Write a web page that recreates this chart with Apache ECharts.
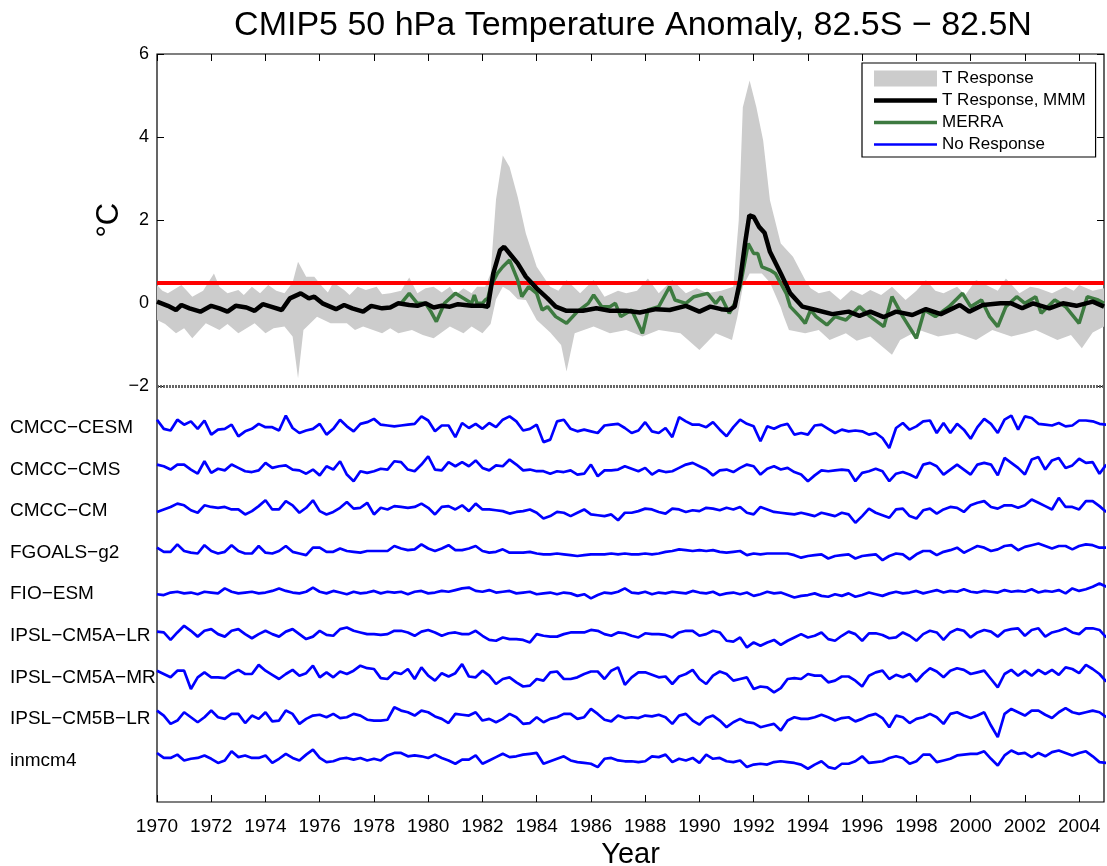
<!DOCTYPE html>
<html><head><meta charset="utf-8">
<script src="https://cdn.jsdelivr.net/npm/echarts@6/dist/echarts.min.js"></script>
<style>html,body{margin:0;padding:0;background:#fff}#c{width:1107px;height:866px}</style>
</head><body><div id="c"></div>
<script>
const FONT = '"Liberation Sans", Arial, Helvetica, sans-serif';
const titleText = 'CMIP5 50 hPa Temperature Anomaly, 82.5S \u2212 82.5N';
const xTicks = [1970,1972,1974,1976,1978,1980,1982,1984,1986,1988,1990,1992,1994,1996,1998,2000,2002,2004];
const yTicks = [-2,0,2,4,6];
const refLevels = [0.5, -2];

// Multi-model mean "T Response" (year, °C)
const mmm = [[1970.0,0.04],[1970.4,-0.06],[1970.7,-0.16],[1970.9,-0.04],[1971.2,-0.12],[1971.6,-0.2],[1972.0,-0.06],[1972.3,-0.12],[1972.6,-0.2],[1972.9,-0.06],[1973.3,-0.1],[1973.6,-0.18],[1973.9,-0.02],[1974.2,-0.08],[1974.6,-0.16],[1974.9,0.12],[1975.3,0.24],[1975.6,0.12],[1975.8,0.16],[1976.1,0.0],[1976.6,-0.14],[1976.9,-0.04],[1977.2,-0.12],[1977.6,-0.2],[1977.9,-0.06],[1978.3,-0.12],[1978.6,-0.1],[1978.9,0.0],[1979.3,-0.04],[1979.6,-0.06],[1979.9,0.0],[1980.2,-0.1],[1980.5,-0.06],[1980.8,-0.08],[1981.1,-0.02],[1981.6,-0.06],[1982.0,-0.06],[1982.2,-0.08],[1982.4,0.72],[1982.65,1.28],[1982.8,1.36],[1983.0,1.2],[1983.3,0.96],[1983.6,0.64],[1984.0,0.36],[1984.4,0.12],[1984.7,-0.08],[1985.1,-0.18],[1985.7,-0.18],[1986.2,-0.12],[1986.7,-0.18],[1987.3,-0.18],[1987.8,-0.22],[1988.4,-0.14],[1988.9,-0.16],[1989.5,-0.06],[1990.0,-0.2],[1990.4,-0.08],[1990.8,-0.14],[1991.1,-0.16],[1991.3,-0.08],[1991.5,0.56],[1991.7,1.52],[1991.84,2.12],[1992.0,2.08],[1992.2,1.84],[1992.4,1.7],[1992.6,1.24],[1993.0,0.72],[1993.35,0.24],[1993.8,-0.08],[1994.3,-0.16],[1994.9,-0.26],[1995.5,-0.2],[1995.9,-0.3],[1996.3,-0.2],[1996.8,-0.33],[1997.25,-0.2],[1997.85,-0.28],[1998.35,-0.14],[1998.9,-0.26],[1999.6,-0.04],[1999.95,-0.2],[2000.45,-0.04],[2001.1,0.0],[2001.5,0.0],[2001.9,-0.12],[2002.3,0.0],[2002.9,-0.12],[2003.4,0.0],[2003.9,-0.06],[2004.5,0.04],[2004.92,-0.08]];

// Model spread "T Response" envelope (year, °C)
const bandUpper = [[1970.0,0.44],[1970.2,0.3],[1970.4,0.24],[1970.9,0.44],[1971.1,0.3],[1971.3,0.16],[1971.7,0.3],[1972.1,0.72],[1972.3,0.4],[1972.6,0.24],[1973.0,0.32],[1973.2,0.2],[1973.5,0.4],[1973.8,0.24],[1974.1,0.44],[1974.4,0.3],[1974.7,0.24],[1975.0,0.5],[1975.2,1.0],[1975.5,0.64],[1975.8,0.64],[1976.1,0.4],[1976.3,0.26],[1976.5,0.5],[1976.9,0.32],[1977.1,0.2],[1977.4,0.4],[1977.7,0.32],[1978.1,0.4],[1978.3,0.22],[1978.6,0.24],[1979.0,0.3],[1979.3,0.62],[1979.6,0.24],[1979.9,0.36],[1980.2,0.4],[1980.5,0.26],[1980.8,0.4],[1981.0,0.2],[1981.3,0.36],[1981.6,0.24],[1981.8,0.4],[1982.1,0.4],[1982.3,0.72],[1982.5,2.5],[1982.75,3.56],[1983.0,3.28],[1983.3,2.56],[1983.6,1.68],[1984.0,0.88],[1984.5,0.4],[1984.8,0.3],[1985.1,0.56],[1985.6,0.24],[1986.1,0.56],[1986.5,0.16],[1987.0,0.3],[1987.3,0.24],[1987.7,0.3],[1988.1,0.6],[1988.5,0.24],[1989.0,0.56],[1989.5,0.24],[1989.9,0.36],[1990.3,0.24],[1990.8,0.3],[1991.25,0.4],[1991.45,2.0],[1991.6,4.72],[1991.85,5.36],[1992.1,4.72],[1992.35,3.92],[1992.6,2.48],[1993.0,1.44],[1993.45,1.12],[1993.9,0.56],[1994.1,0.36],[1994.4,0.24],[1994.8,0.3],[1995.2,0.08],[1995.6,0.32],[1996.0,0.2],[1996.3,0.32],[1996.7,0.2],[1997.1,0.4],[1997.6,0.08],[1998.0,0.3],[1998.35,0.56],[1998.7,0.3],[1999.0,0.24],[1999.5,0.4],[1999.8,0.2],[2000.2,0.56],[2000.7,0.4],[2001.0,0.3],[2001.3,0.6],[2001.8,0.24],[2002.2,0.4],[2002.5,0.36],[2003.0,0.24],[2003.5,0.4],[2003.8,0.3],[2004.0,0.44],[2004.5,0.3],[2004.92,0.36]];
const bandLower = [[1970.0,-0.4],[1970.3,-0.5],[1970.7,-0.72],[1971.0,-0.6],[1971.3,-0.84],[1971.8,-0.48],[1972.3,-0.64],[1972.6,-0.5],[1973.0,-0.72],[1973.6,-0.48],[1974.0,-0.72],[1974.3,-0.6],[1974.7,-0.56],[1975.0,-0.8],[1975.2,-1.8],[1975.4,-0.64],[1975.9,-0.32],[1976.4,-0.48],[1977.0,-0.48],[1977.3,-0.64],[1977.6,-0.56],[1978.3,-0.72],[1978.6,-0.6],[1978.9,-0.72],[1979.4,-0.64],[1979.8,-0.76],[1980.2,-0.84],[1980.8,-0.56],[1981.3,-0.72],[1981.6,-0.56],[1982.0,-0.72],[1982.3,-0.5],[1982.5,0.1],[1982.75,0.4],[1983.0,0.3],[1983.3,0.1],[1983.6,0.08],[1984.0,-0.4],[1984.5,-0.7],[1984.9,-1.0],[1985.1,-1.64],[1985.4,-0.72],[1986.1,-0.56],[1986.7,-0.72],[1987.3,-0.64],[1987.9,-0.8],[1988.5,-0.64],[1989.3,-0.72],[1990.0,-1.12],[1990.6,-0.72],[1991.2,-0.88],[1991.4,-0.32],[1991.6,0.4],[1991.85,0.72],[1992.3,0.72],[1992.6,0.5],[1993.0,-0.1],[1993.1,-0.3],[1993.3,-0.64],[1993.9,-0.72],[1994.4,-0.64],[1994.8,-0.88],[1995.4,-0.72],[1995.8,-0.9],[1996.3,-0.8],[1997.1,-1.24],[1997.4,-0.88],[1998.1,-0.64],[1998.8,-0.8],[1999.5,-0.72],[2000.2,-0.88],[2000.8,-0.64],[2001.5,-0.8],[2002.0,-0.72],[2002.4,-0.64],[2003.2,-0.88],[2003.7,-0.76],[2004.1,-1.08],[2004.5,-0.7],[2004.92,-0.56]];

// MERRA reanalysis (year, °C)
const merra = [[1979.0,0.0],[1979.3,0.24],[1979.6,0.0],[1979.9,0.0],[1980.1,-0.2],[1980.3,-0.44],[1980.6,0.0],[1981.0,0.24],[1981.3,0.12],[1981.6,0.0],[1981.7,0.2],[1981.8,0.0],[1982.0,0.0],[1982.1,0.08],[1982.2,0.12],[1982.3,0.4],[1982.55,0.72],[1982.75,0.88],[1983.0,1.04],[1983.3,0.56],[1983.45,0.16],[1983.7,0.4],[1984.0,0.24],[1984.2,-0.16],[1984.4,-0.08],[1984.7,-0.32],[1985.1,-0.48],[1985.5,-0.2],[1985.9,0.0],[1986.1,0.2],[1986.4,-0.08],[1986.7,-0.08],[1986.9,0.0],[1987.1,-0.32],[1987.5,-0.16],[1987.9,-0.72],[1988.1,-0.16],[1988.5,-0.08],[1988.9,0.4],[1989.1,0.08],[1989.5,0.0],[1989.8,0.16],[1990.3,0.24],[1990.6,0.0],[1990.8,0.16],[1991.1,-0.24],[1991.3,0.0],[1991.5,0.4],[1991.8,1.44],[1992.0,1.2],[1992.15,1.2],[1992.3,0.88],[1992.6,0.8],[1992.8,0.72],[1993.2,0.24],[1993.35,-0.08],[1993.7,-0.32],[1993.9,-0.48],[1994.1,-0.16],[1994.3,-0.32],[1994.7,-0.52],[1995.0,-0.32],[1995.4,-0.4],[1995.9,-0.08],[1996.3,-0.32],[1996.8,-0.56],[1997.1,0.16],[1997.5,-0.32],[1998.0,-0.84],[1998.3,-0.16],[1998.7,-0.32],[1999.2,-0.08],[1999.7,0.24],[2000.0,-0.08],[2000.4,0.08],[2000.7,-0.32],[2001.0,-0.56],[2001.3,-0.08],[2001.7,0.16],[2002.0,0.0],[2002.4,0.16],[2002.6,-0.24],[2003.1,0.08],[2003.5,-0.08],[2004.0,-0.48],[2004.3,0.16],[2004.7,0.08],[2004.92,0.0]];

// "No Response" models: quarterly anomalies from 1970.0 (°C), drawn at fixed offsets
const modelNames = ['CMCC\u2212CESM','CMCC\u2212CMS','CMCC\u2212CM','FGOALS\u2212g2','FIO\u2212ESM','IPSL\u2212CM5A\u2212LR','IPSL\u2212CM5A\u2212MR','IPSL\u2212CM5B\u2212LR','inmcm4'];
const modelOffsets = [-3,-4,-5,-6,-7,-8,-9,-10,-11];
const modelStart = 1970, modelStep = 0.25;

const cmccCesm = [0.2,-0.02,-0.06,0.2, 0.08,0.16,-0.02,0.18, -0.16,-0.04,-0.02,0.08, -0.2,-0.08,-0.02,0.1, 0.02,0.02,-0.06,0.3, 0,-0.12,-0.06,-0.02, 0.1,-0.16,-0.02,0.2, 0.04,-0.08,0.1,0.14, 0.22,0.08,0.06,0.04, 0.06,0.08,0.1,0.28, 0.18,-0.08,0.06,0.06, -0.22,0.12,0,0.1, -0.02,0.12,0.02,0.2, 0.28,0.16,-0.06,-0.02, 0.08,-0.34,-0.28,0.16, 0.2,-0.02,-0.08,-0.04, -0.08,-0.12,0.06,0.08, 0.1,0,-0.12,-0.06, 0.14,-0.08,-0.12,0, -0.22,0.26,0.16,0.08, 0.08,0.02,0.14,-0.04, -0.2,0.02,0.2,0.1, 0.04,-0.32,0.04,-0.02, 0.06,0.1,-0.16,-0.12, -0.16,0.06,0.08,-0.02, -0.12,-0.04,-0.08,-0.06, -0.08,-0.16,-0.12,-0.24, -0.48,0,0.12,-0.04, 0.04,0.16,0.18,-0.12, 0.12,-0.12,0.1,-0.04, -0.26,0.02,0.22,0.1, -0.12,0.2,0.3,-0.04, 0.28,0.24,0.1,0.08, 0.06,0.12,0.04,0.06, 0.18,0.18,0.16,0.1, 0.08];
const cmccCms = [0.12,0.08,0,0.12, 0.12,0,-0.1,0.2, -0.08,0.02,-0.02,0.12, 0.04,-0.04,-0.06,-0.02, 0.16,0.04,0.08,0.1, 0,-0.02,-0.1,0, -0.14,0.08,0,0.2, -0.12,-0.28,-0.04,-0.08, -0.04,0.02,0,0.2, 0.18,0,-0.04,0.12, 0.32,0,-0.02,0.18, 0.08,0.18,0.08,0.22, 0.04,-0.02,0.1,0.08, 0.24,0.12,-0.02,0, -0.04,-0.04,-0.1,-0.04, -0.06,-0.02,-0.12,-0.1, 0.12,-0.16,-0.02,-0.02, 0,0.08,0.02,-0.04, 0.04,-0.12,-0.02,-0.06, -0.04,0.04,0.12,0.16, 0.08,0,-0.14,-0.02, 0,-0.06,0.04,0.12, 0.08,-0.12,0.02,0.08, 0,0.04,-0.06,-0.12, -0.28,-0.14,-0.02,-0.04, -0.02,0,-0.02,-0.28, -0.08,-0.04,0.02,-0.04, -0.28,-0.1,-0.06,-0.12, -0.2,0.12,0.16,0.08, -0.12,0,0.12,0, -0.12,0.12,0.16,0.12, -0.14,0.28,0.16,0.04, -0.12,0.24,0.3,0, 0.22,0.28,0.04,0.1, 0.26,0.16,0.18,-0.1, 0.12];
const cmccCm = [-0.02,0.04,0.1,0.18, 0.14,0.02,-0.04,0.14, 0.1,0.08,0.1,0.04, 0.04,-0.08,0,0.12, 0.26,0.04,0.04,0.24, 0.14,-0.04,0.08,0.26, 0,-0.08,-0.02,0.08, 0.22,0.06,0.08,0.2, -0.08,0.08,0.04,0.12, 0.1,0.08,0.1,0.18, 0.08,-0.08,0.1,0.12, 0.04,0.14,0,0.18, 0.04,0.04,0.02,0, -0.06,-0.02,0,0.04, -0.04,-0.18,-0.12,-0.02, -0.04,-0.12,-0.04,0.04, -0.08,-0.1,-0.12,-0.08, -0.22,-0.04,-0.04,0, 0.06,0.04,-0.02,-0.06, 0.06,0.04,-0.02,0.02, 0,0.08,0.06,0.02, 0.08,0.04,0.1,-0.04, -0.08,0.1,0.04,-0.02, -0.04,-0.06,-0.08,-0.04, -0.08,-0.12,-0.04,-0.08, -0.12,-0.04,-0.08,-0.28, -0.12,0.06,-0.04,-0.1, -0.16,0.04,0.06,-0.12, -0.18,0.02,0.06,-0.06, 0.04,0.1,0.08,-0.02, 0.14,0.2,0.24,0.1, 0.06,0.14,0.14,0.08, 0.14,0.28,0.2,0.12, 0.04,0.32,0.1,0.1, 0.04,0.24,0.24,0.12, -0.02];
const fgoals = [0.12,0.02,0.02,0.2, 0.04,0,-0.02,0.18, 0.04,-0.02,0.02,0.18, 0.04,-0.02,-0.02,0.16, 0,-0.02,0.04,0.16, 0.02,-0.02,-0.06,0.12, 0.12,0.02,0.02,0.1, 0.04,0.02,0,0.04, 0.04,0.04,0.04,0.16, 0.1,0.06,0.08,0.2, 0.1,0.04,0.1,0.18, 0.06,0.06,0.1,0.16, 0.04,0,0.02,0.08, 0,0,0,0.02, -0.02,-0.04,-0.04,-0.02, -0.04,-0.06,-0.08,-0.06, -0.04,-0.04,-0.04,-0.02, -0.04,-0.02,-0.04,-0.04, -0.02,-0.04,-0.02,0.02, 0.04,0.08,0.06,0.04, 0.06,0.04,0.06,0.02, 0,0.02,0.04,-0.06, -0.02,-0.04,-0.02,-0.02, -0.02,-0.02,-0.06,-0.12, -0.08,-0.06,-0.04,-0.14, -0.08,-0.06,-0.04,-0.14, -0.08,-0.06,-0.04,-0.18, -0.08,-0.02,-0.04,-0.16, -0.04,0.04,0.04,-0.06, 0.02,0.06,0.12,0, 0.08,0.16,0.12,0.04, 0.08,0.16,0.18,0.06, 0.14,0.18,0.22,0.16, 0.1,0.16,0.16,0.08, 0.16,0.2,0.18,0.12, 0.12];
const fioEsm = [0,-0.02,0.04,0.06, 0.02,0.04,0,0.06, 0.04,0.02,0.14,0.06, 0.02,0.04,0.06,0.02, 0.04,0.08,0.14,0.08, 0.04,0.02,0.06,0.16, 0.06,0.02,0.08,0.04, 0,0.06,0.02,0.04, 0.08,0.02,0.06,0.04, 0.06,0,0.06,0.08, 0.02,0.04,0.08,0.06, 0.1,0.14,0.16,0.08, 0.06,0.1,0.04,0.06, 0.08,0.02,0.04,0.06, 0,0.02,0.04,0, 0.04,0.02,-0.04,0, -0.1,-0.02,0.04,0.02, 0.06,0.14,0.04,0.02, 0.06,0,0.04,0.02, 0.06,0.04,0.02,0.08, 0.04,0.02,0.06,-0.02, 0.02,0.04,0,0.04, -0.04,0,0.06,0.02, 0.04,-0.02,-0.08,-0.04, -0.02,0.02,-0.04,-0.06, 0,-0.04,0.02,-0.06, -0.02,0.04,0,-0.04, 0.02,0.06,0.02,0.04, 0.08,0.02,0.06,0.1, 0.04,0.08,0.06,0.12, 0.06,0.04,0.08,0.06, 0.04,0.1,0.06,0.08, 0.06,0.12,0.04,0.08, 0.06,0.1,0.02,0.14, 0.08,0.12,0.18,0.26, 0.18];
const ipslALr = [0.1,0.08,-0.1,0.08, 0.24,0.12,-0.02,0.12, 0.16,0.04,-0.02,0.12, 0.16,0.04,-0.06,0.04, 0.12,0.04,-0.02,0.1, 0.16,0.04,-0.08,-0.02, 0.12,0.02,0,0.16, 0.2,0.12,0.08,0.04, 0.04,0.02,0.04,0.12, 0.12,0.08,0,0.1, 0.14,0.08,0,0.06, 0.08,0.04,0.04,0.12, 0,-0.1,-0.12,-0.04, -0.08,-0.08,-0.1,-0.16, 0.04,0,-0.02,-0.02, 0.04,0.08,0.08,0.08, 0.14,0.12,0.04,0, 0.08,0.06,0,-0.04, 0.06,0.04,0.04,0.02, -0.04,0.08,0.12,0.12, 0,0.04,0.12,0.08, -0.12,-0.14,-0.04,-0.28, -0.16,-0.24,-0.16,-0.1, -0.22,-0.12,-0.04,0.04, -0.04,0,0.08,-0.08, -0.12,0,0.1,0.04, -0.12,0.06,0.06,0.02, -0.06,-0.04,0.08,0, -0.12,0.04,0.12,0.08, -0.1,0.08,0.16,0.12, -0.04,0.08,0.14,0.1, -0.02,0.12,0.16,0.18, 0,0.14,0.18,-0.02, 0.08,0.12,0.18,0.08, 0.04,0.18,0.18,0.14, -0.04];
const ipslAMr = [0.16,0.08,0,0.16, 0.16,-0.28,0,0.12, 0,0,-0.02,0.1, 0.18,0.08,0.08,0.3, 0.16,0.06,-0.04,0.08, 0.18,0.04,0.1,0.28, 0,0.12,0,0.14, 0.08,0.16,0.28,0.22, 0.2,-0.02,-0.04,0.12, 0.08,0.2,-0.04,0.24, 0.04,-0.08,0.1,0.02, 0.1,0.32,0.02,0, 0.16,0.04,-0.16,-0.04, 0,-0.12,-0.22,-0.2, -0.04,-0.08,0.12,0.14, -0.04,-0.04,0,0.08, 0.14,0.14,-0.04,0.16, 0.24,-0.18,0,0.12, 0.12,0.06,0,0.02, -0.16,0.02,0.08,0.18, -0.04,-0.16,0.04,0.14, 0.08,-0.08,-0.04,0, -0.28,-0.22,-0.24,-0.36, -0.26,-0.04,-0.02,-0.04, 0.08,0.04,0.04,-0.12, -0.08,0.02,0.02,-0.08, -0.22,0.04,0.12,0.16, -0.04,0.06,0,0.08, -0.1,0.08,0.22,0.14, 0,0.16,0.22,0.18, 0.08,0.12,0.16,-0.04, -0.24,0.08,0.18,0.04, 0.16,0.04,0.18,0.08, 0.18,0.06,0.24,0.2, 0.1,0.3,0.2,0.08, -0.1];
const ipslBLr = [0.2,0.08,-0.12,-0.04, 0.16,0.04,-0.08,0.04, 0.2,0.04,0,0.12, 0.12,-0.1,0.08,0, 0.16,-0.06,-0.04,0.2, 0.12,-0.12,0,0.08, 0.1,0.04,0.12,0.02, 0.04,0.12,0.08,-0.02, -0.04,-0.04,-0.02,0.28, 0.2,0.16,0.08,0.2, 0.16,0.06,0,-0.1, 0.12,0.1,0.08,0.16, -0.04,0,-0.08,0, 0.12,0.04,-0.12,-0.1, 0.04,-0.08,0,0.04, 0.12,0.12,0,0.04, 0.24,0.12,-0.02,-0.06, 0.08,0.02,0.04,0.02, 0.08,0.06,0.1,0.04, -0.12,0.08,0.12,-0.04, -0.14,0.02,0.08,-0.04, -0.2,-0.08,0,-0.08, -0.1,-0.2,-0.16,-0.12, -0.28,-0.04,0.04,0, 0,0.04,0.1,0.04, -0.04,0.02,0.04,-0.06, 0,0.08,0.12,0.02, -0.2,0.08,0.04,-0.1, 0,0.04,0.12,0.04, -0.12,0.12,0.16,0.08, 0.02,0.08,0.16,-0.16, -0.44,0.12,0.24,0.16, 0.08,0.2,0.2,0.1, 0.02,0.16,0.26,0.16, 0.12,0.16,0.2,0.16, 0.04];
const inmcm4 = [0.18,0.06,0.06,0.14, 0,0.04,0.06,0.12, 0.04,-0.06,0,0.22, 0.08,0.12,0.06,0.06, 0.12,-0.06,0.04,0.16, 0.06,0,0.14,0.26, 0.06,-0.04,-0.02,0.04, 0.06,0.02,0.06,0, 0.04,0,0.12,0.18, 0.18,0.1,0.12,0.1, 0.06,0.14,0.06,0, -0.08,0.02,0.02,0.12, -0.08,0,0.08,0.16, 0.08,0.1,0.14,0.16, 0.18,-0.08,-0.02,0.04, 0.1,0,-0.04,-0.06, -0.08,-0.16,0.04,0.06, 0,-0.02,-0.02,-0.04, -0.02,0.1,0.08,0.14, -0.04,0.04,0,0.06, -0.06,0.14,0.04,0.06, -0.02,-0.04,0,-0.16, -0.1,-0.08,-0.1,-0.04, -0.02,-0.04,-0.06,-0.1, -0.2,-0.1,-0.02,-0.16, -0.2,-0.08,-0.08,-0.02, 0.1,-0.06,-0.04,-0.02, 0.06,0.1,0.06,-0.08, -0.02,0.14,0.14,-0.04, 0,0.04,0.12,0.14, 0.16,0.16,0.22,0.04, -0.12,0.12,0.24,0.16, 0.18,0.08,0.18,0.1, 0.2,0.24,0.18,0.12, 0.18,0.22,0.1,-0.04, -0.06];
const modelAnoms = [cmccCesm, cmccCms, cmccCm, fgoals, fioEsm, ipslALr, ipslAMr, ipslBLr, inmcm4];

const X_MIN = 1970, X_MAX = 2004.917, Y_MIN = -12, Y_MAX = 6;
const minus = v => String(v).replace('-', '\u2212');

const modelSeries = modelAnoms.map((arr, k) => ({
  type: 'line', name: 'No Response', symbol: 'none', z: 4,
  itemStyle: { color: '#0000ff' },
  lineStyle: { color: '#0000ff', width: 2.7 },
  data: arr.map((v, i) => [modelStart + i * modelStep, modelOffsets[k] + v])
}));

const tickStyle = { inside: true, length: 7, lineStyle: { color: '#000', width: 1 } };

const chart = echarts.init(document.getElementById('c'), null, { renderer: 'canvas' });
const option = {
  animation: false,
  backgroundColor: '#fff',
  textStyle: { fontFamily: FONT },
  title: {
    text: titleText, left: 628, top: 4, textAlign: 'center',
    textStyle: { fontSize: 34, fontWeight: 'normal', color: '#000', fontFamily: FONT }
  },
  grid: {
    left: 157, right: 3, top: 54, height: 748, outerBoundsMode: 'none', containLabel: false,
    show: true, borderColor: '#000', borderWidth: 1.2, backgroundColor: 'transparent'
  },
  legend: {
    orient: 'vertical', left: 862, top: 63, padding: [7, 10, 4, 12],
    itemWidth: 63, itemHeight: 16, itemGap: 5,
    backgroundColor: '#fff', borderColor: '#000', borderWidth: 1.2, borderRadius: 0,
    textStyle: { fontSize: 17, color: '#000', fontFamily: FONT, lineHeight: 16 },
    itemStyle: { borderWidth: 0 },
    selectedMode: false,
    data: [
      { name: 'T Response', icon: 'rect' },
      { name: 'T Response, MMM', icon: 'path://M0,0H63V4.5H0Z' },
      { name: 'MERRA', icon: 'path://M0,0H63V3.5H0Z' },
      { name: 'No Response', icon: 'path://M0,0H63V2.5H0Z' }
    ]
  },
  xAxis: [
    {
      type: 'value', min: X_MIN, max: X_MAX, interval: 2, position: 'bottom',
      axisLine: { show: false, onZero: false }, splitLine: { show: false },
      axisTick: Object.assign({ customValues: xTicks }, tickStyle),
      axisLabel: { customValues: xTicks, fontSize: 19, color: '#000', margin: 15, fontFamily: FONT, formatter: v => String(v) },
      name: 'Year', nameLocation: 'middle', nameGap: 32,
      nameTextStyle: { fontSize: 29, color: '#000', fontFamily: FONT }
    },
    {
      type: 'value', min: X_MIN, max: X_MAX, interval: 2, position: 'top',
      axisLine: { show: false, onZero: false }, splitLine: { show: false },
      axisTick: Object.assign({ customValues: xTicks }, tickStyle),
      axisLabel: { show: false }
    }
  ],
  yAxis: [
    {
      type: 'value', min: Y_MIN, max: Y_MAX, interval: 2, position: 'left',
      axisLine: { show: false, onZero: false }, splitLine: { show: false },
      axisTick: Object.assign({ customValues: yTicks }, tickStyle),
      axisLabel: { customValues: yTicks, fontSize: 18, color: '#000', margin: 8, fontFamily: FONT, formatter: minus }
    },
    {
      type: 'value', min: Y_MIN, max: Y_MAX, interval: 1, position: 'left',
      axisLine: { show: false, onZero: false }, splitLine: { show: false }, axisTick: { show: false },
      axisLabel: {
        customValues: modelOffsets, align: 'left', margin: 147, fontSize: 19, color: '#000', fontFamily: FONT,
        formatter: v => { const i = modelOffsets.indexOf(v); return i >= 0 ? modelNames[i] : ''; }
      }
    },
    {
      type: 'value', min: Y_MIN, max: Y_MAX, interval: 2, position: 'right',
      axisLine: { show: false, onZero: false }, splitLine: { show: false },
      axisTick: Object.assign({ customValues: yTicks }, tickStyle),
      axisLabel: { show: false }
    }
  ],
  series: [
    {
      type: 'custom', name: 'T Response', z: 1, silent: true,
      itemStyle: { color: '#cccccc' },
      data: bandUpper, encode: { x: 0, y: 1 },
      renderItem: (params, api) => {
        if (params.dataIndex !== 0) return null;
        const pts = bandUpper.map(p => api.coord(p)).concat(bandLower.slice().reverse().map(p => api.coord(p)));
        return { type: 'polygon', shape: { points: pts }, style: { fill: '#cccccc' } };
      }
    },
    {
      type: 'line', name: 'MERRA', symbol: 'none', z: 3,
      itemStyle: { color: '#3d7a40' },
      lineStyle: { color: '#3d7a40', width: 3.5 },
      data: merra,
      markLine: {
        silent: true, symbol: 'none', label: { show: false }, z: 2,
        data: [
          { yAxis: refLevels[0], lineStyle: { color: '#ff0000', width: 4, type: 'solid' } },
          { yAxis: refLevels[1], lineStyle: { color: '#666666', width: 3, type: [2, 1] } }
        ]
      }
    },
    {
      type: 'line', name: 'T Response, MMM', symbol: 'none', z: 3,
      itemStyle: { color: '#000000' },
      lineStyle: { color: '#000000', width: 4.5 },
      data: mmm
    }
  ].concat(modelSeries)
};
chart.setOption(option);

const cy = chart.convertToPixel({ yAxisIndex: 0 }, 2);
const cx = chart.convertToPixel({ xAxisIndex: 0 }, X_MIN) - 48;
chart.setOption({
  graphic: [{
    type: 'text', x: cx, y: cy, rotation: Math.PI / 2,
    style: { text: '\u00B0C', fontSize: 31, fill: '#000', fontFamily: FONT, textAlign: 'center', textVerticalAlign: 'middle' }
  }]
});
</script>
</body></html>
